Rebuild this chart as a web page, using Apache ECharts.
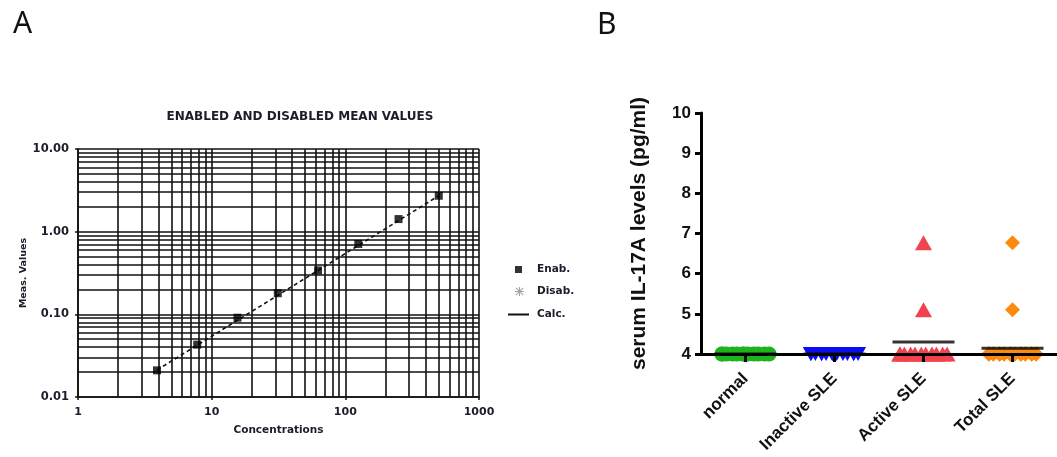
<!DOCTYPE html>
<html>
<head>
<meta charset="utf-8">
<script src="https://cdn.jsdelivr.net/npm/echarts@6/dist/echarts.min.js"></script>
<style>
  html, body { margin: 0; padding: 0; background: #fff; }
  #chart { width: 1057px; height: 457px; }
</style>
</head>
<body>
<div id="chart"></div>
<script>
// ---- Panel A: standard curve (log-log) ----
const stdConc = [3.9, 7.8, 15.6, 31.25, 62.5, 125, 250, 500];
const stdMeas = [0.021, 0.043, 0.091, 0.18, 0.34, 0.71, 1.42, 2.72];
const calcConc = [3.9, 500];
const calcMeas = [0.0212, 2.72];
const concTicks = [1, 10, 100, 1000];
const measTicks = [0.01, 0.1, 1, 10];

// ---- Panel B: serum IL-17A per group ----
const groups = ['normal', 'Inactive SLE', 'Active SLE', 'Total SLE'];
const normal = [4.0, 4.0, 4.0, 4.0, 4.0, 4.0, 4.0, 4.0, 4.0, 4.0, 4.0, 4.0];
const inactiveSLE = [4.0, 4.0, 4.0, 4.0, 4.0, 4.0, 4.0, 4.0, 4.0, 4.0, 4.0, 4.0, 4.0, 4.0];
const activeSLE = [4.0, 4.0, 4.0, 4.0, 4.0, 4.0, 4.0, 4.0, 4.0, 4.0, 4.0, 5.1, 6.77];
const totalSLE = [4.0, 4.0, 4.0, 4.0, 4.0, 4.0, 4.0, 4.0, 4.0, 4.0, 4.0, 4.0, 4.0, 4.0,
                  4.0, 4.0, 4.0, 4.0, 4.0, 4.0, 4.0, 4.0, 4.0, 4.0, 4.0, 5.1, 6.77];

const fontA = 'DejaVu Sans';
const fontB = 'Liberation Sans';
const inkA = '#1c1c2a';

// minor log grid values: 2..9 of every decade inside the range
function minorLogValues(lo, hi) {
  const out = [];
  for (let d = lo; d < hi; d *= 10) {
    for (let m = 2; m <= 9; m++) out.push(+(d * m).toPrecision(6));
  }
  return out;
}
const minorX = minorLogValues(concTicks[0], concTicks[concTicks.length - 1]);
const minorY = minorLogValues(measTicks[0], measTicks[measTicks.length - 1]);

// column scatter: equal values are dealt into a row of slots around the category centre
const SLOT_STEP = 0.12;
const MAX_SLOTS = 5;
const SLOT_ORDER = [0, 2, 4, 1, 3];
function spread(values, idx) {
  const counts = {};
  values.forEach(v => { counts[v] = (counts[v] || 0) + 1; });
  const seen = {};
  return values.map(v => {
    const k = counts[v];
    const i = (seen[v] = (seen[v] || 0) + 1) - 1;
    const n = Math.min(k, MAX_SLOTS);
    const slot = n === MAX_SLOTS ? SLOT_ORDER[i % n] : i % n;
    return [idx + (slot - (n - 1) / 2) * SLOT_STEP + (k > n ? ((Math.floor(i / n) % 2) - 0.5) * 0.05 : 0), v];
  });
}
const mean = arr => arr.reduce((a, b) => a + b, 0) / arr.length;

const groupValues = [normal, inactiveSLE, activeSLE, totalSLE];
const groupColors = ['#1db31d', '#0c0cf2', '#f0434d', '#fa8a10'];
const groupSymbols = ['circle', 'path://M0,0L10,0L5,9Z', 'triangle', 'diamond'];
const groupSizes = [15, [16, 14], [17, 15], [15, 15]];

const chart = echarts.init(document.getElementById('chart'), null, { renderer: 'canvas' });

const asterisk = 'path://M4,0h1v9h-1z M0,4h9v1h-9z M1.2,0.5L8.5,7.8L7.8,8.5L0.5,1.2Z M7.8,0.5L8.5,1.2L1.2,8.5L0.5,7.8Z';

const scatterB = groupValues.map((vals, i) => ({
  type: 'scatter',
  name: groups[i],
  xAxisIndex: 2,
  yAxisIndex: 1,
  data: spread(vals, i),
  symbol: groupSymbols[i],
  symbolSize: groupSizes[i],
  itemStyle: { color: groupColors[i], opacity: 1 },
  clip: false,
  silent: true,
  z: 3
}));

const option = {
  animation: false,
  title: [
    { text: 'A', left: 8, top: 4, textStyle: { fontFamily: 'Noto Sans', fontSize: 30, fontWeight: 'normal', color: '#111' } },
    { text: 'B', left: 592, top: 5, textStyle: { fontFamily: 'Noto Sans', fontSize: 30, fontWeight: 'normal', color: '#111' } },
    { text: 'ENABLED AND DISABLED MEAN VALUES', left: 295, top: 106, textAlign: 'center',
      textStyle: { fontFamily: fontA, fontSize: 12, fontWeight: 'bold', color: inkA } }
  ],
  legend: [
    { data: [{ name: 'Enab.', icon: 'rect' }], left: 515, top: 264, padding: 0, itemWidth: 7, itemHeight: 7,
      textStyle: { fontFamily: fontA, fontSize: 10.5, fontWeight: 'bold', color: inkA, padding: [0, 0, 0, 10] }, selectedMode: false },
    { data: [{ name: 'Disab.', icon: asterisk }], left: 515, top: 286, padding: 0, itemWidth: 9, itemHeight: 9,
      textStyle: { fontFamily: fontA, fontSize: 10.5, fontWeight: 'bold', color: inkA, padding: [0, 0, 0, 8] }, selectedMode: false },
    { data: [{ name: 'Calc.', icon: 'path://M0,0H21V2H0Z' }], left: 508, top: 309, padding: 0, itemWidth: 21, itemHeight: 2,
      itemStyle: { color: '#111' },
      textStyle: { fontFamily: fontA, fontSize: 10.5, fontWeight: 'bold', color: inkA, padding: [0, 0, 0, 3] }, selectedMode: false }
  ],
  grid: [
    { left: 78, top: 149, width: 401, height: 248, containLabel: false },
    { left: 701, top: 113, width: 360, height: 241, containLabel: false }
  ],
  xAxis: [
    {
      gridIndex: 0, type: 'log', logBase: 10, min: concTicks[0], max: concTicks[concTicks.length - 1],
      name: 'Concentrations', nameLocation: 'middle', nameGap: 28,
      nameTextStyle: { fontFamily: fontA, fontSize: 10.5, fontWeight: 'bold', color: inkA },
      axisLine: { show: true, onZero: false, lineStyle: { color: '#111', width: 1.6 } },
      axisTick: { show: true, length: 3, lineStyle: { color: '#111', width: 1.5 } },
      axisLabel: { fontFamily: fontA, fontSize: 11, fontWeight: 'bold', color: inkA, margin: 10,
        formatter: v => String(Math.round(v)) },
      splitLine: { show: true, lineStyle: { color: '#111', width: 1.6 } }
    },
    {
      gridIndex: 1, type: 'category', data: groups, boundaryGap: true, z: 10,
      axisLine: { show: true, onZero: false, lineStyle: { color: '#000', width: 3 } },
      axisTick: { show: true, alignWithLabel: true, length: 8, lineStyle: { color: '#000', width: 3 } },
      axisLabel: { rotate: 45, fontFamily: fontB, fontSize: 17, fontWeight: 'bold', color: '#111', margin: 22, interval: 0 },
      splitLine: { show: false }
    },
    {
      gridIndex: 1, type: 'value', min: -0.5, max: groups.length - 0.5, show: false,
      axisLine: { onZero: false }
    }
  ],
  yAxis: [
    {
      gridIndex: 0, type: 'log', logBase: 10, min: measTicks[0], max: measTicks[measTicks.length - 1],
      name: 'Meas. Values', nameLocation: 'middle', nameGap: 48, nameRotate: 90,
      nameTextStyle: { fontFamily: fontA, fontSize: 9.5, fontWeight: 'bold', color: inkA },
      axisLine: { show: true, onZero: false, lineStyle: { color: '#111', width: 1.6 } },
      axisTick: { show: true, length: 3, lineStyle: { color: '#111', width: 1.5 } },
      axisLabel: { fontFamily: fontA, fontSize: 11.5, fontWeight: 'bold', color: inkA, margin: 9,
        formatter: v => v.toFixed(2) },
      splitLine: { show: true, lineStyle: { color: '#111', width: 1.6 } }
    },
    {
      gridIndex: 1, type: 'value', min: 4, max: 10, interval: 1, z: 10,
      name: 'serum IL-17A levels (pg/ml)', nameLocation: 'middle', nameGap: 51, nameRotate: 90,
      nameTextStyle: { fontFamily: fontB, fontSize: 21, fontWeight: 'bold', color: '#111' },
      axisLine: { show: true, onZero: false, lineStyle: { color: '#000', width: 3 } },
      axisTick: { show: true, length: 6, lineStyle: { color: '#000', width: 3 } },
      axisLabel: { fontFamily: fontB, fontSize: 17, fontWeight: 'bold', color: '#111', margin: 10 },
      splitLine: { show: false }
    }
  ],
  series: [
    {
      type: 'scatter', name: 'Enab.', xAxisIndex: 0, yAxisIndex: 0,
      data: stdConc.map((c, i) => [c, stdMeas[i]]),
      symbol: 'rect', symbolSize: 8, itemStyle: { color: '#000' }, z: 5, silent: true,
      markLine: {
        silent: true, symbol: ['none', 'none'], label: { show: false }, z: 1,
        lineStyle: { color: '#111', width: 1.6, type: 'solid' },
        emphasis: { disabled: true },
        data: minorX.map(v => ({ xAxis: v })).concat(minorY.map(v => ({ yAxis: v })))
      }
    },
    {
      type: 'scatter', name: 'Disab.', xAxisIndex: 0, yAxisIndex: 0, data: [],
      symbol: asterisk, symbolSize: 9, itemStyle: { color: '#8a8a8a' }
    },
    {
      type: 'line', name: 'Calc.', xAxisIndex: 0, yAxisIndex: 0,
      data: calcConc.map((c, i) => [c, calcMeas[i]]),
      showSymbol: false, symbol: 'none', z: 4, silent: true,
      lineStyle: { color: '#111', width: 1.6, type: [4, 3] },
      itemStyle: { color: '#111' }
    },
    ...scatterB,
    {
      type: 'scatter', name: 'mean', xAxisIndex: 2, yAxisIndex: 1,
      data: groupValues.map((vals, i) => [i, mean(vals)]),
      symbol: 'rect', symbolSize: [62, 3], itemStyle: { color: '#000' }, clip: false, silent: true, z: 6
    }
  ]
};

chart.setOption(option);
</script>
</body>
</html>
